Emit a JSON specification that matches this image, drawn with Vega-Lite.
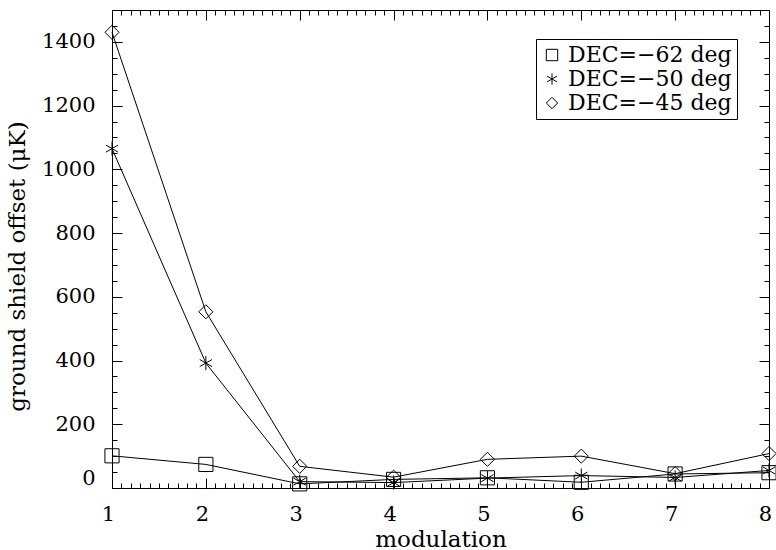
{
  "$schema": "https://vega.github.io/schema/vega-lite/v6.json",
  "width": 657,
  "height": 478,
  "autosize": {"type": "none"},
  "padding": {"left": 112, "top": 10, "right": 7, "bottom": 62},
  "background": "white",
  "config": {
    "view": {"stroke": null},
    "axis": {
      "labelFont": "DejaVu Serif",
      "labelFontSize": 21,
      "labelColor": "black",
      "titleFont": "DejaVu Serif",
      "titleFontSize": 23,
      "titleFontWeight": "normal",
      "titleColor": "black",
      "domainColor": "black",
      "domainWidth": 1,
      "tickColor": "black",
      "tickWidth": 1,
      "grid": false
    }
  },
  "data": {
    "values": [
      {"series": "DEC=−62 deg", "modulation": 1, "offset": 101},
      {"series": "DEC=−62 deg", "modulation": 2, "offset": 74},
      {"series": "DEC=−62 deg", "modulation": 3, "offset": 13},
      {"series": "DEC=−62 deg", "modulation": 4, "offset": 27},
      {"series": "DEC=−62 deg", "modulation": 5, "offset": 32},
      {"series": "DEC=−62 deg", "modulation": 6, "offset": 18},
      {"series": "DEC=−62 deg", "modulation": 7, "offset": 44},
      {"series": "DEC=−62 deg", "modulation": 8, "offset": 48},
      {"series": "DEC=−50 deg", "modulation": 1, "offset": 1065},
      {"series": "DEC=−50 deg", "modulation": 2, "offset": 392},
      {"series": "DEC=−50 deg", "modulation": 3, "offset": 20},
      {"series": "DEC=−50 deg", "modulation": 4, "offset": 17},
      {"series": "DEC=−50 deg", "modulation": 5, "offset": 31},
      {"series": "DEC=−50 deg", "modulation": 6, "offset": 39},
      {"series": "DEC=−50 deg", "modulation": 7, "offset": 33},
      {"series": "DEC=−50 deg", "modulation": 8, "offset": 55},
      {"series": "DEC=−45 deg", "modulation": 1, "offset": 1430},
      {"series": "DEC=−45 deg", "modulation": 2, "offset": 553},
      {"series": "DEC=−45 deg", "modulation": 3, "offset": 68},
      {"series": "DEC=−45 deg", "modulation": 4, "offset": 34},
      {"series": "DEC=−45 deg", "modulation": 5, "offset": 90},
      {"series": "DEC=−45 deg", "modulation": 6, "offset": 100},
      {"series": "DEC=−45 deg", "modulation": 7, "offset": 45},
      {"series": "DEC=−45 deg", "modulation": 8, "offset": 108}
    ]
  },
  "resolve": {"axis": {"x": "independent", "y": "independent"}},
  "layer": [
    {
      "mark": {"type": "line", "color": "black", "strokeWidth": 1},
      "encoding": {
        "x": {"field": "modulation", "type": "quantitative",
          "scale": {"domain": [1, 8], "nice": false, "zero": false},
          "axis": {"orient": "bottom", "values": [1,2,3,4,5,6,7,8], "format": "d", "tickSize": -10, "labelPadding": 25, "labelFlush": false, "labelOffset": -4, "title": "modulation", "titlePadding": 4}},
        "y": {"field": "offset", "type": "quantitative",
          "scale": {"domain": [0, 1500], "nice": false, "zero": false},
          "axis": {"orient": "left", "values": [0,200,400,600,800,1000,1200,1400], "format": "d", "tickSize": -10, "labelPadding": 27, "labelFlush": true, "title": "ground shield offset (μK)", "titlePadding": 12, "titleY": 256}},
        "detail": {"field": "series", "type": "nominal"}
      }
    },
    {
      "mark": {"type": "point", "filled": false, "color": "black", "strokeWidth": 1, "size": 200, "opacity": 1},
      "encoding": {
        "x": {"field": "modulation", "type": "quantitative",
          "axis": {"orient": "top", "values": [1,2,3,4,5,6,7,8], "labels": false, "tickSize": -10, "title": null}},
        "y": {"field": "offset", "type": "quantitative",
          "axis": {"orient": "right", "values": [0,200,400,600,800,1000,1200,1400], "labels": false, "tickSize": -10, "title": null}},
        "shape": {"field": "series", "type": "nominal",
          "scale": {"domain": ["DEC=−62 deg", "DEC=−50 deg", "DEC=−45 deg"],
            "range": ["square", "M0,-1L0,1M-0.866,-0.5L0.866,0.5M-0.866,0.5L0.866,-0.5", "diamond"]},
          "legend": {"orient": "none", "legendX": 424, "legendY": 29, "title": null, "strokeColor": "black", "fillColor": "white", "padding": 5, "labelFont": "DejaVu Serif", "labelFontSize": 22, "labelLimit": 400, "labelColor": "black", "symbolSize": 130, "symbolStrokeColor": "black", "symbolStrokeWidth": 1, "rowPadding": 2, "labelOffset": 5}
        }
      }
    },
    {
      "mark": {"type": "point", "opacity": 0},
      "encoding": {
        "x": {"field": "modulation", "type": "quantitative",
          "axis": {"orient": "bottom", "values": [1.1,1.2,1.3,1.4,1.5,1.6,1.7,1.8,1.9,2.1,2.2,2.3,2.4,2.5,2.6,2.7,2.8,2.9,3.1,3.2,3.3,3.4,3.5,3.6,3.7,3.8,3.9,4.1,4.2,4.3,4.4,4.5,4.6,4.7,4.8,4.9,5.1,5.2,5.3,5.4,5.5,5.6,5.7,5.8,5.9,6.1,6.2,6.3,6.4,6.5,6.6,6.7,6.8,6.9,7.1,7.2,7.3,7.4,7.5,7.6,7.7,7.8,7.9], "labels": false, "domain": false, "tickSize": -5, "title": null}},
        "y": {"field": "offset", "type": "quantitative",
          "axis": {"orient": "left", "values": [50,100,150,250,300,350,450,500,550,650,700,750,850,900,950,1050,1100,1150,1250,1300,1350,1450], "labels": false, "domain": false, "tickSize": -5, "title": null}}
      }
    },
    {
      "mark": {"type": "point", "opacity": 0},
      "encoding": {
        "x": {"field": "modulation", "type": "quantitative",
          "axis": {"orient": "top", "values": [1.1,1.2,1.3,1.4,1.5,1.6,1.7,1.8,1.9,2.1,2.2,2.3,2.4,2.5,2.6,2.7,2.8,2.9,3.1,3.2,3.3,3.4,3.5,3.6,3.7,3.8,3.9,4.1,4.2,4.3,4.4,4.5,4.6,4.7,4.8,4.9,5.1,5.2,5.3,5.4,5.5,5.6,5.7,5.8,5.9,6.1,6.2,6.3,6.4,6.5,6.6,6.7,6.8,6.9,7.1,7.2,7.3,7.4,7.5,7.6,7.7,7.8,7.9], "labels": false, "domain": false, "tickSize": -5, "title": null}},
        "y": {"field": "offset", "type": "quantitative",
          "axis": {"orient": "right", "values": [50,100,150,250,300,350,450,500,550,650,700,750,850,900,950,1050,1100,1150,1250,1300,1350,1450], "labels": false, "domain": false, "tickSize": -5, "title": null}}
      }
    }
  ]
}
